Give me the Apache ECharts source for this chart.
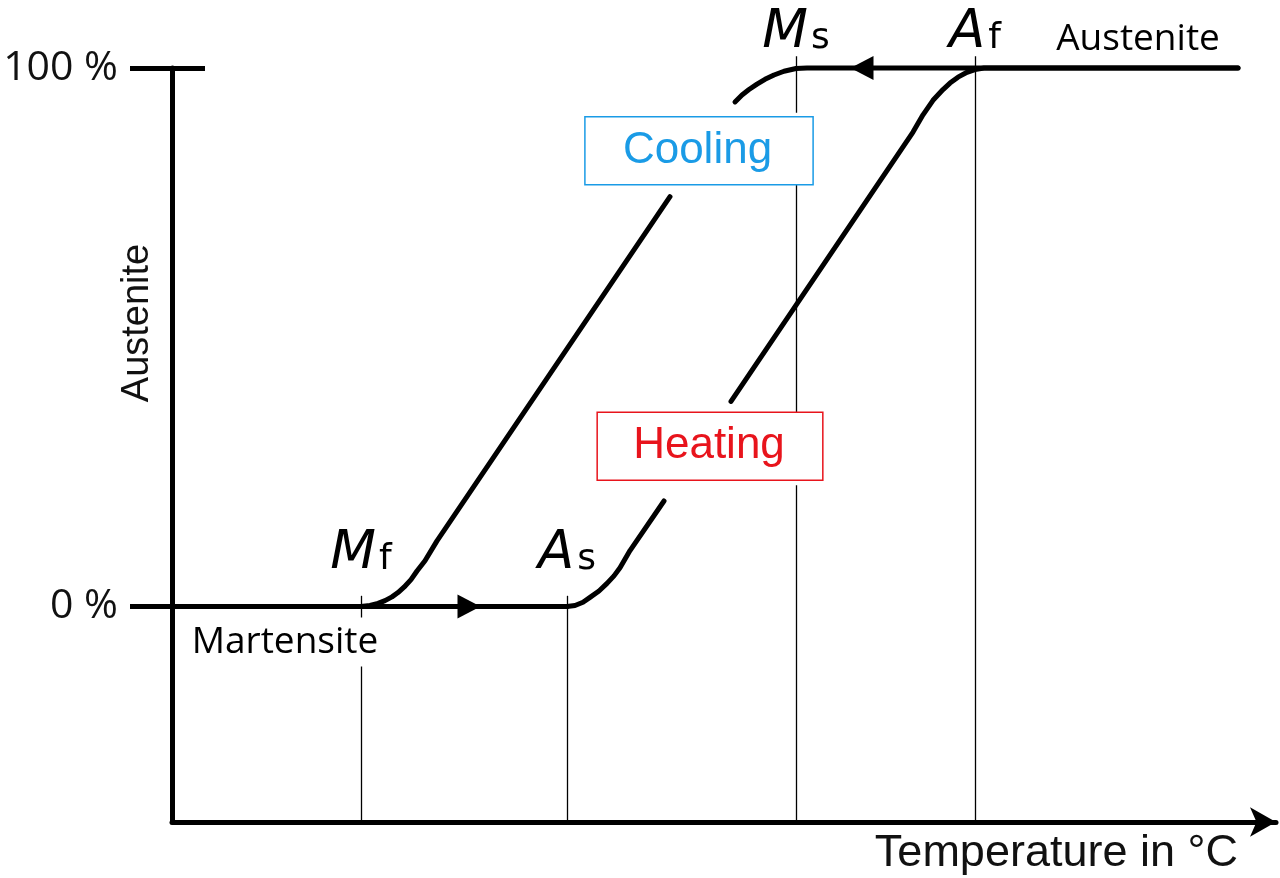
<!DOCTYPE html>
<html><head><meta charset="utf-8">
<script src="https://cdn.jsdelivr.net/npm/echarts@6/dist/echarts.min.js"></script>
<style>html,body{margin:0;padding:0;background:#fff}#c{width:1280px;height:878px}</style>
</head><body><div id="c"></div>
<script>
// ---- data (x: temperature, arbitrary units; y: austenite fraction in %) ----
const yTickValues = [0, 100];
const yTickLabels = ['0 %', '100 %'];
const xAxisName = 'Temperature in °C';
const yAxisName = 'Austenite';

const transitionMain = ['M', 'A', 'M', 'A'];
const transitionSub = ['f', 's', 's', 'f'];
const transitionTemps = [18.9, 39.5, 62.4, 80.3];
const transitionLevels = [0, 0, 100, 100];
const guideTops = [2, 2, 102.2, 102.2];
const guideBottom = -40;

const martensiteLine = [[0, 0], [39.5, 0]];
const heatingLower = [[39.5, 0], [40.3, 0.2], [41.1, 0.8], [41.8, 1.7], [42.7, 2.9], [43.5, 4.3], [44.2, 5.7], [44.8, 7.2], [45.8, 10.4], [49.2, 19.6]];
const heatingUpper = [[55.9, 38.1], [74.1, 88.1], [75.1, 91.3], [76.1, 94.0], [77.1, 96.0], [77.8, 97.2], [78.6, 98.3], [79.5, 99.2], [80.3, 99.7], [81.2, 100], [106.6, 100]];
const coolingUpper = [[56.3, 93.7], [57.0, 95.0], [57.7, 96.0], [58.5, 97.0], [59.3, 97.9], [60.2, 98.7], [61.2, 99.4], [62.4, 99.9], [63.5, 100], [106.6, 100]];
const coolingLower = [[18.9, 0], [19.8, 0.2], [20.6, 0.6], [21.3, 1.1], [22.0, 1.8], [22.6, 2.6], [23.2, 3.6], [23.9, 5.0], [24.5, 6.6], [25.3, 8.5], [26.5, 12.2], [49.8, 76.1]];

const arrowPoints = [[29.7, 0], [69.0, 100]];
const arrowRotations = [-90, 90];

const phaseNames = ['Martensite', 'Austenite'];
const phasePoints = [[11.3, 0], [96.6, 100]];

const processNames = ['Cooling', 'Heating'];
const processPoints = [[52.7, 85.0], [53.8, 29.3]];
const processColors = ['#1a9be6', '#e8141c'];

// ---- chart ----
const chart = echarts.init(document.getElementById('c'), null, {renderer: 'canvas'});
const black = '#000';
const curveStyle = {color: black, width: 5, cap: 'round', join: 'round'};

function curve(name, data) {
  return {type: 'line', name, data, symbol: 'none', smooth: false,
    lineStyle: curveStyle, silent: true, clip: false, z: 3};
}

const labelData = [];
transitionMain.forEach((m, i) => {
  const up = transitionLevels[i] === 100;
  labelData.push({
    value: [transitionTemps[i], transitionLevels[i]],
    label: {show: true, position: 'top', distance: up ? 8 : 26,
      formatter: '{m|' + m + '}{s|' + transitionSub[i] + '}',
      rich: {
        m: {fontFamily: 'DejaVu Sans', fontStyle: 'italic', fontSize: 53, color: black, verticalAlign: 'bottom', lineHeight: 56},
        s: {fontFamily: 'DejaVu Sans', fontSize: 36, color: black, verticalAlign: 'bottom', lineHeight: 56, padding: [0, 0, 3, 3]}
      }}
  });
});
phaseNames.forEach((n, i) => {
  const below = phasePoints[i][1] === 0;
  labelData.push({
    value: phasePoints[i],
    label: {show: true, position: below ? 'bottom' : 'top', distance: below ? 11 : 10,
      formatter: n, fontFamily: 'Open Sans', fontSize: 37, color: black,
      backgroundColor: below ? '#fff' : 'transparent', padding: below ? [6, 2, 6, 2] : 0}
  });
});
processNames.forEach((n, i) => {
  labelData.push({
    value: processPoints[i],
    label: {show: true, position: 'inside', formatter: '{b|' + n + '}',
      backgroundColor: '#fff', padding: i === 0 ? [16, 12, 12, 12] : [12, 12, 17, 12],
      rich: {b: {fontFamily: 'Liberation Sans', fontSize: 44, lineHeight: 44, color: processColors[i],
        borderColor: processColors[i], borderWidth: 1.5, padding: i === 0 ? [12, 41, 12, 38] : [12, 38, 12, 36]}}}
  });
});

const option = {
  animation: false,
  backgroundColor: '#fff',
  grid: {left: 172, right: 4, top: 68, bottom: 56, containLabel: false, outerBoundsMode: 'none'},
  xAxis: {
    type: 'value', min: 0, max: 110.4,
    axisLine: {show: true, onZero: false, lineStyle: {color: black, width: 5}, symbol: ['none', 'arrow'], symbolSize: [22, 26]},
    axisTick: {show: false}, axisLabel: {show: false}, splitLine: {show: false},
    name: xAxisName, nameLocation: 'end', nameGap: -38, nameMoveOverlap: false,
    nameTextStyle: {align: 'right', verticalAlign: 'top', fontFamily: 'Liberation Sans', fontSize: 45, color: '#111', padding: [9, 0, 0, 0]}
  },
  yAxis: [{
    type: 'value', min: -40, max: 100, position: 'left',
    axisLine: {show: true, onZero: false, lineStyle: {color: black, width: 5}},
    axisTick: {show: true, customValues: yTickValues, length: 42, lineStyle: {color: black, width: 5}},
    axisLabel: {show: true, customValues: yTickValues, margin: 54, fontFamily: 'Open Sans', fontSize: 41, color: '#111',
      formatter: v => yTickLabels[yTickValues.indexOf(v)]},
    splitLine: {show: false},
    name: yAxisName, nameLocation: 'middle', nameGap: 15, nameRotate: 90, nameMoveOverlap: false,
    nameTextStyle: {fontFamily: 'Liberation Sans', fontSize: 38, color: '#111', verticalAlign: 'bottom', padding: [0, 0, 0, 244]}
  }, {
    type: 'value', min: -40, max: 100, position: 'left',
    axisLine: {show: false, onZero: false},
    axisTick: {show: true, inside: true, customValues: [yTickValues[1]], length: 33, lineStyle: {color: black, width: 5}},
    axisLabel: {show: false}, splitLine: {show: false}
  }],
  series: [
    {
      type: 'lines', name: 'guides', coordinateSystem: 'cartesian2d', silent: true, clip: false, z: 1,
      lineStyle: {color: black, width: 1.3, opacity: 1},
      data: transitionTemps.map((t, i) => ({coords: [[t, guideBottom], [t, guideTops[i]]]}))
    },
    Object.assign(curve('martensite', martensiteLine), {
      markPoint: {symbol: 'triangle', silent: true, itemStyle: {color: black},
        label: {show: false},
        data: arrowPoints.map((p, i) => ({coord: p, symbolRotate: arrowRotations[i], symbolSize: [24, 23]}))}
    }),
    curve('heatingLower', heatingLower),
    curve('heatingUpper', heatingUpper),
    curve('coolingUpper', coolingUpper),
    curve('coolingLower', coolingLower),
    {type: 'scatter', name: 'labels', symbolSize: 0, silent: true, clip: false, z: 10,
      itemStyle: {opacity: 1}, data: labelData}
  ]
};
chart.setOption(option);
</script>
</body></html>
